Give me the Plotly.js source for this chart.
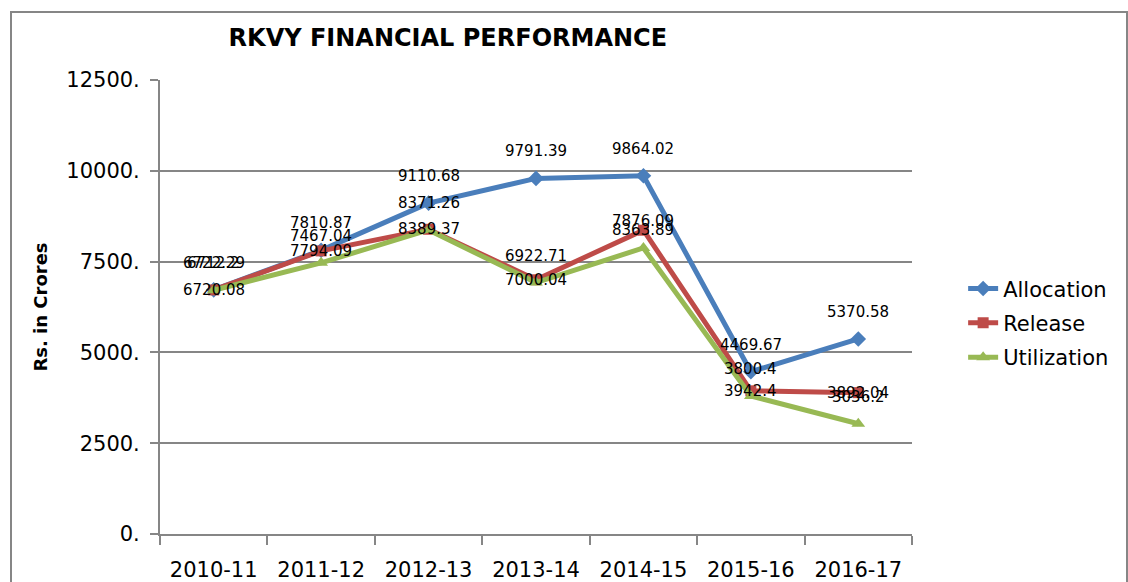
<!DOCTYPE html>
<html>
<head>
<meta charset="utf-8">
<script src="https://cdn.plot.ly/plotly-3.0.1.min.js"></script>
<style>html,body{margin:0;padding:0;background:#fff;}#chart{width:1128px;height:582px;}</style>
</head>
<body>
<div id="chart"></div>
<script>
var years = ["2010-11","2011-12","2012-13","2013-14","2014-15","2015-16","2016-17"];
var allocation = [6722.29, 7810.87, 9110.68, 9791.39, 9864.02, 4469.67, 5370.58];
var release = [6720.08, 7794.09, 8389.37, 7000.04, 8363.89, 3942.4, 3892.04];
var utilization = [6712.2, 7467.04, 8371.26, 6922.71, 7876.09, 3800.4, 3036.2];
var yTickVals = [0, 2500, 5000, 7500, 10000, 12500];
var yTickText = ["0.", "2500.", "5000.", "7500.", "10000.", "12500."];

var FONT = "DejaVu Sans, Arial, sans-serif";
var colors = {alloc: "#4A7EBB", rel: "#BE4B48", util: "#98B954"};

function mkTrace(name, y, color, symbol, size) {
  return {
    type: "scatter", mode: "lines+markers", name: name, legendgroup: name,
    x: years, y: y,
    line: {color: color, width: 5},
    marker: {color: color, symbol: symbol, size: size},
    hoverinfo: "skip"
  };
}
var traces = [
  mkTrace("Allocation", allocation, colors.alloc, "diamond", 12),
  mkTrace("Release", release, colors.rel, "square", 11),
  mkTrace("Utilization", utilization, colors.util, "triangle-up", 12)
];

var annotations = [];
function addLabels(vals, shift) {
  for (var i = 0; i < years.length; i++) {
    annotations.push({
      x: years[i], y: vals[i], xref: "x", yref: "y",
      text: String(vals[i]), showarrow: false, yshift: shift,
      font: {family: FONT, size: 15, color: "#000"}
    });
  }
}
addLabels(allocation, 27);
addLabels(release, 0);
addLabels(utilization, 27);

var layout = {
  width: 1128, height: 582,
  margin: {l: 160, r: 216, t: 80, b: 48},
  paper_bgcolor: "#fff", plot_bgcolor: "#fff",
  font: {family: FONT, color: "#000"},
  title: {
    text: "<b>RKVY FINANCIAL PERFORMANCE</b>",
    font: {family: FONT, size: 24, color: "#000"},
    x: 0.397, xref: "container", xanchor: "center",
    y: 0.936, yref: "container", yanchor: "middle"
  },
  xaxis: {
    type: "category", range: [-0.5, 6.5],
    showgrid: false, showline: true, linecolor: "#868686", linewidth: 2,
    ticks: "outside", tickson: "boundaries", ticklen: 9, tickcolor: "#868686", tickwidth: 2,
    tickfont: {family: FONT, size: 21, color: "#000"},
    ticklabelstandoff: 16,
    fixedrange: true
  },
  yaxis: {
    range: [0, 12500], tickvals: yTickVals, ticktext: yTickText,
    showgrid: true, gridcolor: "#868686", gridwidth: 2,
    showline: true, linecolor: "#868686", linewidth: 2,
    ticks: "outside", ticklen: 8, tickcolor: "#868686", tickwidth: 2,
    tickfont: {family: FONT, size: 21, color: "#000"},
    ticklabelstandoff: 6,
    zeroline: false,
    title: {text: "<b>Rs. in Crores</b>", font: {family: FONT, size: 18, color: "#000"}, standoff: 14},
    fixedrange: true
  },
  legend: {
    x: 1.068, xanchor: "left", y: 0.465, yanchor: "middle",
    font: {family: FONT, size: 21, color: "#000"},
    bgcolor: "rgba(0,0,0,0)", tracegroupgap: 4
  },
  showlegend: true,
  annotations: annotations,
  shapes: [{
    type: "rect", xref: "paper", yref: "paper",
    x0: -149/752, x1: 1127/752 - 160/752, y0: -60/454, y1: 1 + 68/454,
    line: {color: "#868686", width: 2}, fillcolor: "rgba(0,0,0,0)", layer: "below"
  }]
};

Plotly.newPlot("chart", traces, layout, {displayModeBar: false, staticPlot: true});
</script>
</body>
</html>
